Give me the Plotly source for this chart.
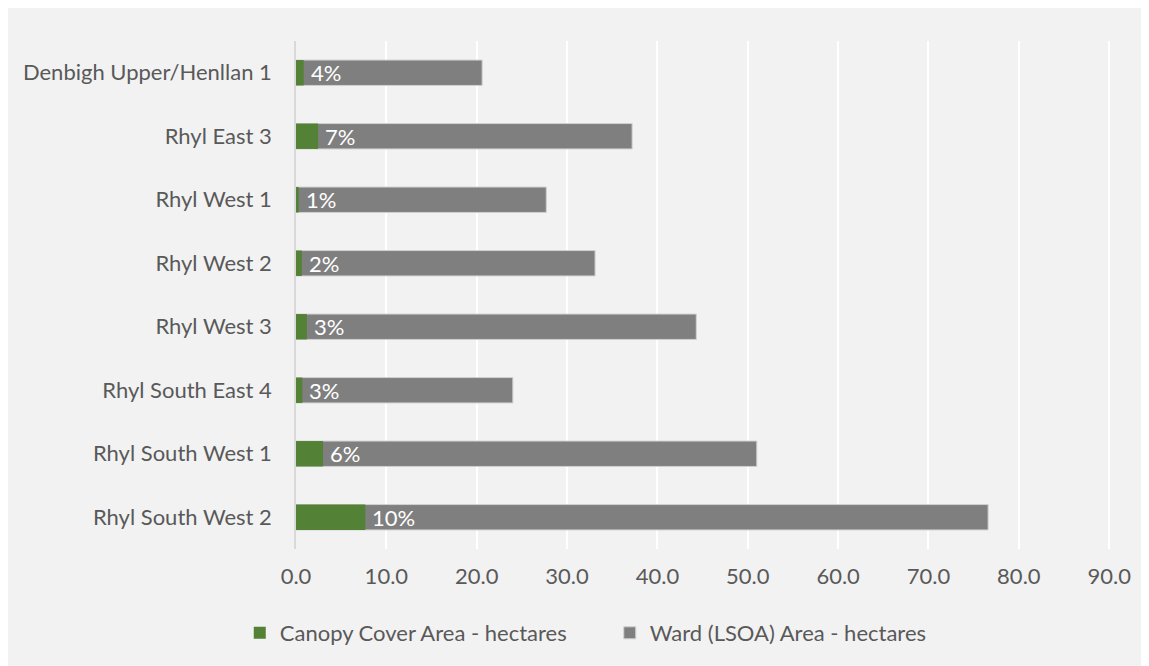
import plotly.graph_objects as go

categories = ["Denbigh Upper/Henllan 1", "Rhyl East 3", "Rhyl West 1", "Rhyl West 2",
              "Rhyl West 3", "Rhyl South East 4", "Rhyl South West 1", "Rhyl South West 2"]
canopy_ha = [0.85, 2.45, 0.3, 0.65, 1.2, 0.7, 3.0, 7.67]
ward_ha = [20.6, 37.2, 27.7, 33.1, 44.3, 24.0, 51.0, 76.6]
pct_labels = ["4%", "7%", "1%", "2%", "3%", "3%", "6%", "10%"]
x_ticks = [0, 10, 20, 30, 40, 50, 60, 70, 80, 90]

FONT = "Lato"
FS = 22
TXT = "#595959"
GREEN = "#538135"
GREY = "#7f7f7f"

fig = go.Figure()
fig.add_trace(go.Bar(
    y=categories, x=ward_ha, orientation="h", name="Ward (LSOA) Area - hectares",
    marker=dict(color=GREY, line=dict(color="#d0d0d0", width=1)), legendrank=2,
))
fig.add_trace(go.Bar(
    y=categories, x=canopy_ha, orientation="h", name="Canopy Cover Area - hectares",
    marker=dict(color=GREEN, line=dict(width=0)), legendrank=1,
))

for cat, c, lab in zip(categories, canopy_ha, pct_labels):
    fig.add_annotation(x=c, y=cat, text=lab, showarrow=False, xanchor="left",
                       xshift=5, font=dict(family=FONT, size=FS, color="white"))

fig.update_layout(
    width=1141, height=658,
    barmode="overlay", bargap=0.6,
    paper_bgcolor="#f2f2f2", plot_bgcolor="#f2f2f2",
    margin=dict(l=288, r=38, t=33, b=115),
    font=dict(family=FONT, size=FS, color=TXT),
    legend=dict(orientation="h", x=-0.069, xanchor="left", y=-0.124, yanchor="top",
                font=dict(family=FONT, size=FS, color=TXT), itemwidth=30,
                entrywidth=325, entrywidthmode="pixels",
                bgcolor="rgba(0,0,0,0)"),
    showlegend=True,
)
fig.update_xaxes(range=[0, 90.2], tickvals=x_ticks, tickformat=".1f",
                 showgrid=True, gridcolor="#ffffff", gridwidth=1.5,
                 zeroline=False, showline=False, ticks="", ticklabelstandoff=12,
                 tickfont=dict(family=FONT, size=FS, color=TXT), fixedrange=True)
fig.update_yaxes(categoryorder="array", categoryarray=categories, autorange="reversed",
                 showline=True, linecolor="#d9d9d9", linewidth=1.5, ticks="",
                 showgrid=False, ticklabelstandoff=18,
                 tickfont=dict(family=FONT, size=FS, color=TXT))

fig.write_html("out.html")
